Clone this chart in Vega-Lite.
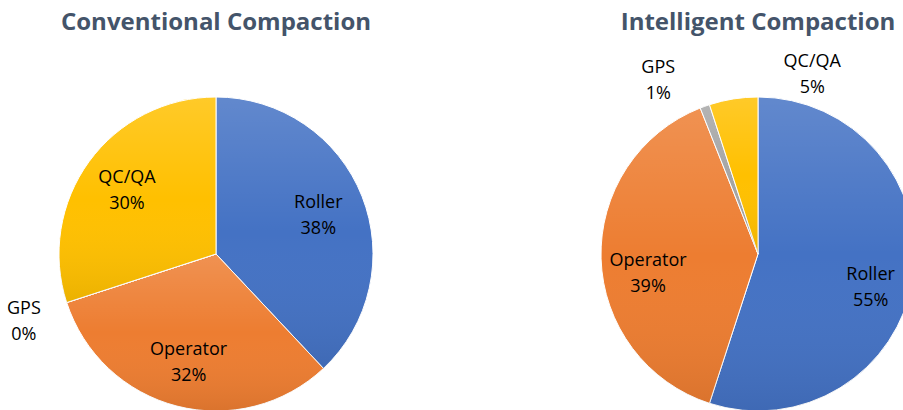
{
  "$schema": "https://vega.github.io/schema/vega-lite/v6.json",
  "padding": {"top": 11, "left": 0, "right": 0, "bottom": 0},
  "background": "white",
  "config": {
    "view": {"stroke": null},
    "title": {"font": "Open Sans", "fontSize": 24, "fontWeight": "bold", "color": "#44546A", "anchor": "middle", "offset": -1, "frame": "group"},
    "text": {"font": "Open Sans", "fontSize": 18, "color": "#000000", "lineHeight": 26}
  },
  "datasets": {
    "shares": [
      {"chart": "Conventional Compaction", "category": "Roller", "value": 38},
      {"chart": "Conventional Compaction", "category": "Operator", "value": 32},
      {"chart": "Conventional Compaction", "category": "GPS", "value": 0},
      {"chart": "Conventional Compaction", "category": "QC/QA", "value": 30},
      {"chart": "Intelligent Compaction", "category": "Roller", "value": 55},
      {"chart": "Intelligent Compaction", "category": "Operator", "value": 39},
      {"chart": "Intelligent Compaction", "category": "GPS", "value": 1},
      {"chart": "Intelligent Compaction", "category": "QC/QA", "value": 5}
    ]
  },
  "spacing": 110,
  "hconcat": [
    {
      "title": "Conventional Compaction",
      "width": 432,
      "height": 440,
      "data": {"name": "shares"},
      "transform": [
        {"filter": "datum.chart === 'Conventional Compaction'"},
        {"window": [{"op": "row_number", "as": "idx"}]},
        {"stack": "value", "groupby": [], "sort": [{"field": "idx", "order": "ascending"}], "as": ["v0", "v1"]},
        {"calculate": "(datum.v0 + datum.v1) / 2", "as": "mid"},
        {"calculate": "[datum.category, datum.value + '%']", "as": "label"}
      ],
      "encoding": {
        "color": {"field": "category", "type": "nominal", "legend": null,
          "scale": {"domain": ["Roller", "Operator", "GPS", "QC/QA"], "range": ["#4472C4", "#ED7D31", "#A5A5A5", "#FFC000"]}}
      },
      "layer": [
        {"mark": {"type": "arc", "outerRadius": 157, "stroke": "white", "strokeWidth": 1},
          "encoding": {"theta": {"field": "v0", "type": "quantitative", "scale": {"domain": [0, 100]}}, "theta2": {"field": "v1"}}},
        {"mark": {"type": "arc", "outerRadius": 157, "fill": {"gradient": "linear", "x1": 0, "y1": 0, "x2": 0, "y2": 1,
            "stops": [{"offset": 0, "color": "rgba(255,255,255,0.16)"}, {"offset": 0.5, "color": "rgba(255,255,255,0)"}, {"offset": 1, "color": "rgba(0,0,0,0.08)"}]}},
          "encoding": {"theta": {"field": "v0", "type": "quantitative", "scale": {"domain": [0, 100]}}, "theta2": {"field": "v1"}}},
        {"transform": [{"filter": "datum.value >= 10"}],
          "mark": {"type": "text", "radius": 110, "dy": -11},
          "encoding": {"theta": {"field": "mid", "type": "quantitative", "scale": {"domain": [0, 100]}}, "text": {"field": "label"}, "color": {"value": "#000000"}}},
        {"transform": [{"filter": "datum.value < 10"}],
          "mark": {"type": "text", "radius": 202, "dy": -7},
          "encoding": {"theta": {"field": "mid", "type": "quantitative", "scale": {"domain": [0, 100]}}, "text": {"field": "label"}, "color": {"value": "#000000"}}}
      ]
    },
    {
      "title": "Intelligent Compaction",
      "width": 432,
      "height": 440,
      "data": {"name": "shares"},
      "transform": [
        {"filter": "datum.chart === 'Intelligent Compaction'"},
        {"window": [{"op": "row_number", "as": "idx"}]},
        {"stack": "value", "groupby": [], "sort": [{"field": "idx", "order": "ascending"}], "as": ["v0", "v1"]},
        {"calculate": "(datum.v0 + datum.v1) / 2", "as": "mid"},
        {"calculate": "[datum.category, datum.value + '%']", "as": "label"}
      ],
      "encoding": {
        "color": {"field": "category", "type": "nominal", "legend": null,
          "scale": {"domain": ["Roller", "Operator", "GPS", "QC/QA"], "range": ["#4472C4", "#ED7D31", "#A5A5A5", "#FFC000"]}}
      },
      "layer": [
        {"mark": {"type": "arc", "outerRadius": 157, "stroke": "white", "strokeWidth": 1},
          "encoding": {"theta": {"field": "v0", "type": "quantitative", "scale": {"domain": [0, 100]}}, "theta2": {"field": "v1"}}},
        {"mark": {"type": "arc", "outerRadius": 157, "fill": {"gradient": "linear", "x1": 0, "y1": 0, "x2": 0, "y2": 1,
            "stops": [{"offset": 0, "color": "rgba(255,255,255,0.16)"}, {"offset": 0.5, "color": "rgba(255,255,255,0)"}, {"offset": 1, "color": "rgba(0,0,0,0.08)"}]}},
          "encoding": {"theta": {"field": "v0", "type": "quantitative", "scale": {"domain": [0, 100]}}, "theta2": {"field": "v1"}}},
        {"transform": [{"filter": "datum.value >= 10"}],
          "mark": {"type": "text", "radius": 112, "dy": 3, "dx": 2},
          "encoding": {"theta": {"field": "mid", "type": "quantitative", "scale": {"domain": [0, 100]}}, "text": {"field": "label"}, "color": {"value": "#000000"}}},
        {"transform": [{"filter": "datum.category === 'GPS'"}],
          "mark": {"type": "text", "radius": 200, "dx": -32, "dy": 2},
          "encoding": {"theta": {"field": "mid", "type": "quantitative", "scale": {"domain": [0, 100]}}, "text": {"field": "label"}, "color": {"value": "#000000"}}},
        {"transform": [{"filter": "datum.category === 'QC/QA'"}],
          "mark": {"type": "text", "radius": 190, "dx": 84, "dy": -4},
          "encoding": {"theta": {"field": "mid", "type": "quantitative", "scale": {"domain": [0, 100]}}, "text": {"field": "label"}, "color": {"value": "#000000"}}}
      ]
    }
  ]
}
